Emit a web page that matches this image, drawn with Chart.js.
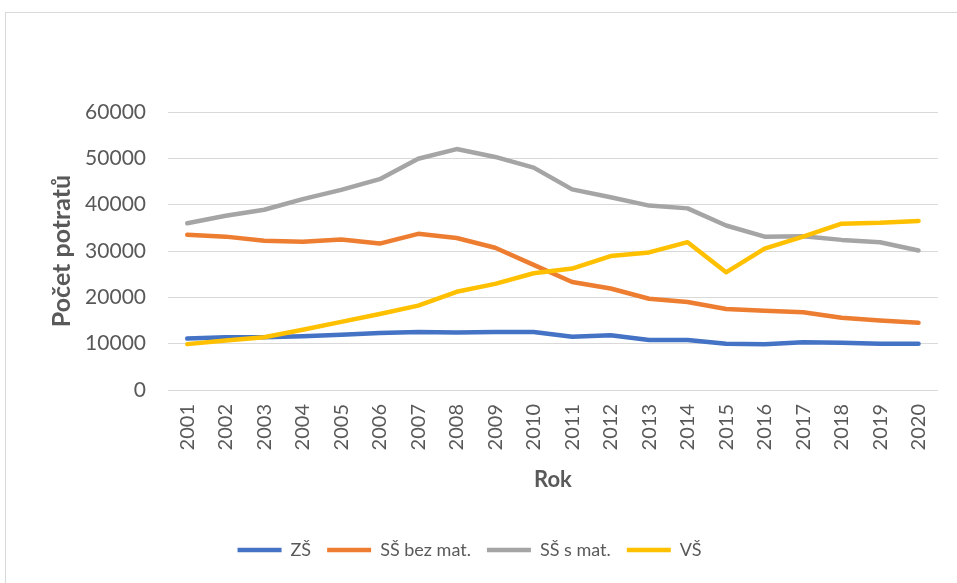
<!DOCTYPE html>
<html>
<head>
<meta charset="utf-8">
<script src="https://cdn.jsdelivr.net/npm/chart.js@4.4.1/dist/chart.umd.min.js"></script>
<style>
  html, body { margin: 0; padding: 0; background: #fff; }
  canvas { display: block; }
</style>
</head>
<body>
<canvas id="abortChart" width="957" height="583"></canvas>
<script>
const years = ['2001', '2002', '2003', '2004', '2005', '2006', '2007', '2008', '2009', '2010',
               '2011', '2012', '2013', '2014', '2015', '2016', '2017', '2018', '2019', '2020'];

// values
const zs = [11100, 11400, 11400, 11600, 11900, 12300, 12500, 12400, 12500, 12500,
            11500, 11800, 10800, 10800, 10000, 9900, 10300, 10200, 10000, 10000];
const ssBezMat = [33500, 33100, 32200, 32000, 32500, 31600, 33700, 32800, 30700, 27000,
                  23300, 21900, 19700, 19000, 17500, 17100, 16800, 15600, 15000, 14500];
const ssSMat = [36000, 37600, 38900, 41200, 43200, 45500, 49900, 52000, 50300, 48000,
                43300, 41600, 39800, 39200, 35500, 33100, 33200, 32400, 31900, 30100];
const vs = [9900, 10700, 11400, 13000, 14700, 16400, 18200, 21200, 22900, 25200,
            26200, 28900, 29700, 31900, 25400, 30500, 33100, 35900, 36100, 36500];

const yTicks = [0, 10000, 20000, 30000, 40000, 50000, 60000];

const txtColor = '#595959';
const gridColor = '#d9d9d9';

// light frame round the chart, like the Excel chart area
const framePlugin = {
    id: 'frame',
    beforeDraw(chart) {
        const ctx = chart.ctx;
        ctx.save();
        ctx.fillStyle = '#fff';
        ctx.fillRect(0, 0, chart.width, chart.height);
        ctx.strokeStyle = gridColor;
        ctx.lineWidth = 1;
        ctx.strokeRect(5.5, 12.5, chart.width + 10, chart.height + 10);
        ctx.restore();
    }
};

function line(label, data, color, order) {
    return {
        label: label,
        data: data,
        borderColor: color,
        backgroundColor: color,
        borderWidth: 4.5,
        pointRadius: 0,
        pointStyle: 'line',
        tension: 0,
        fill: false,
        borderCapStyle: 'round',
        borderJoinStyle: 'round',
        order: order
    };
}

const ctx = document.getElementById('abortChart').getContext('2d');
const chart = new Chart(ctx, {
    type: 'line',
    data: {
        labels: years,
        datasets: [
            line('ZŠ', zs, '#4472C4', 3),
            line('SŠ bez mat.', ssBezMat, '#ED7D31', 2),
            line('SŠ s mat.', ssSMat, '#A5A5A5', 1),
            line('VŠ', vs, '#FFC000', 0)
        ]
    },
    options: {
        responsive: false,
        animation: false,
        layout: {
            padding: { top: 112, right: 18, bottom: 14, left: 0 }
        },
        plugins: {
            tooltip: { enabled: false },
            legend: {
                position: 'bottom',
                labels: {
                    color: txtColor,
                    font: { family: 'Lato', size: 18 },
                    usePointStyle: true,
                    pointStyleWidth: 44,
                    boxWidth: 44,
                    boxHeight: 5,
                    padding: 16,
                    sort: (a, b) => a.datasetIndex - b.datasetIndex
                }
            }
        },
        scales: {
            x: {
                offset: true,
                grid: { display: false, drawTicks: false },
                border: { display: false },
                ticks: {
                    color: txtColor,
                    font: { family: 'Lato', size: 20 },
                    minRotation: 90,
                    maxRotation: 90,
                    padding: 14,
                    autoSkip: false
                },
                title: {
                    display: true,
                    text: 'Rok',
                    color: txtColor,
                    font: { family: 'Lato', size: 22, weight: 'bold' },
                    padding: { top: 0, bottom: 32 }
                },
                afterFit: scale => { scale.height = 135; }
            },
            y: {
                min: 0,
                max: 60000,
                grid: { color: gridColor, lineWidth: 1, drawTicks: false },
                border: { display: false },
                afterBuildTicks: scale => { scale.ticks = yTicks.map(v => ({ value: v })); },
                ticks: {
                    color: txtColor,
                    font: { family: 'Lato', size: 21 },
                    padding: 22,
                    callback: value => String(value)
                },
                title: {
                    display: true,
                    text: 'Počet potratů',
                    color: txtColor,
                    font: { family: 'Lato', size: 25, weight: 'bold' },
                    padding: { top: 47, bottom: 0 }
                },
                afterFit: scale => { scale.width = 168; }
            }
        }
    },
    plugins: [framePlugin]
});
</script>
</body>
</html>
